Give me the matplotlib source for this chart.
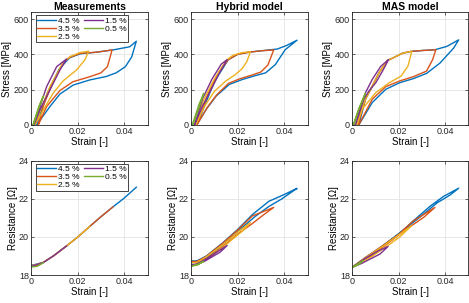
import matplotlib
matplotlib.use('Agg')
import matplotlib.pyplot as plt
import numpy as np

plt.rcParams['font.family'] = ['Liberation Sans', 'DejaVu Sans']

labels = ['4.5 %', '3.5 %', '2.5 %', '1.5 %', '0.5 %']
colors = ['#0072BD', '#D95319', '#EDB120', '#7E2F8E', '#77AC30']
titles = ['Measurements', 'Hybrid model', 'MAS model']

# stress-strain loops (strain [-], stress [MPa])
ms45 = [(0.0024, 0), (0.0081, 104), (0.0124, 175), (0.0181, 226), (0.0252, 255), (0.0324, 275),
        (0.0365, 295), (0.0405, 330), (0.0432, 385), (0.0452, 474), (0.0424, 443), (0.0352, 425),
        (0.028, 412), (0.021, 403), (0.0165, 380), (0.012, 315), (0.007, 180), (0.0024, 0)]
ms35 = [(0.0031, 0), (0.0067, 104), (0.0124, 195), (0.018, 245), (0.0252, 273), (0.030, 295),
        (0.0328, 330), (0.0348, 425), (0.028, 412), (0.021, 405), (0.0165, 382), (0.0138, 352),
        (0.009, 230), (0.0055, 115), (0.0031, 0)]
ms25 = [(0.0017, 0), (0.0053, 85), (0.0095, 180), (0.0138, 250), (0.0195, 311), (0.0231, 368),
        (0.0248, 418), (0.021, 410), (0.0167, 387), (0.0138, 355), (0.0081, 217), (0.0045, 100),
        (0.0017, 0)]
ms15 = [(0.0013, 0), (0.0038, 85), (0.0081, 198), (0.0124, 311), (0.0153, 374), (0.011, 330),
        (0.0067, 217), (0.0024, 47), (0.0010, 0)]
ms05 = [(0.0010, 0), (0.0032, 90), (0.0053, 164), (0.0035, 110), (0.0008, 0)]

hs45 = [(0.0024, 0), (0.0066, 90), (0.0108, 164), (0.0165, 230), (0.0221, 258), (0.0277, 280),
        (0.032, 295), (0.0362, 342), (0.0404, 426), (0.0455, 480), (0.041, 450), (0.037, 430),
        (0.03, 420), (0.025, 413), (0.02, 400), (0.016, 370), (0.01, 245), (0.0025, 0)]
hs35 = [(0.0025, 0), (0.007, 100), (0.011, 170), (0.016, 235), (0.021, 262), (0.026, 282),
        (0.03, 300), (0.033, 340), (0.0355, 425), (0.03, 420), (0.025, 412), (0.02, 400),
        (0.016, 370), (0.012, 300), (0.008, 200), (0.0025, 0)]
hs25 = [(0.002, 0), (0.006, 110), (0.01, 190), (0.015, 250), (0.019, 285), (0.022, 320),
        (0.024, 360), (0.0255, 415), (0.022, 410), (0.018, 395), (0.015, 365), (0.01, 260),
        (0.005, 130), (0.002, 0)]
hs15 = [(0.0015, 0), (0.005, 110), (0.009, 210), (0.012, 290), (0.0155, 370), (0.013, 345),
        (0.009, 260), (0.005, 150), (0.0015, 0)]
hs05 = [(0.0008, 0), (0.003, 80), (0.0055, 180), (0.0035, 120), (0.0005, 0)]

as45 = [(0.0029, 0), (0.0087, 127), (0.0145, 202), (0.0204, 239), (0.0262, 262), (0.032, 292),
        (0.0378, 351), (0.0436, 435), (0.0458, 482), (0.0407, 445), (0.0356, 426), (0.0305, 422),
        (0.0255, 417), (0.0218, 407), (0.0175, 379), (0.0153, 366), (0.0116, 295), (0.0087, 220),
        (0.0058, 146), (0.0029, 0)]
as35 = [(0.0029, 0), (0.0087, 146), (0.0145, 217), (0.0204, 249), (0.0262, 273), (0.032, 305),
        (0.0346, 370), (0.036, 426), (0.0305, 422), (0.0255, 417), (0.0218, 407), (0.0175, 379),
        (0.0153, 366), (0.0116, 295), (0.0087, 220), (0.0058, 146), (0.0025, 0)]
as25 = [(0.0022, 0), (0.0044, 90), (0.0102, 183), (0.016, 239), (0.0211, 277), (0.024, 333),
        (0.0257, 417), (0.0218, 407), (0.0175, 379), (0.0153, 366), (0.0116, 295), (0.0087, 220),
        (0.0058, 146), (0.0015, 0)]
as15 = [(0.0015, 0), (0.0051, 146), (0.0073, 193), (0.0102, 239), (0.0131, 305), (0.0157, 370),
        (0.0124, 333), (0.0087, 258), (0.0058, 183), (0.0007, 0)]
as05 = [(0.0007, 0), (0.003, 90), (0.0058, 180), (0.003, 95), (0.0005, 0)]

# resistance-strain curves (strain [-], resistance [Ohm])
mr45 = [(0, 18.5), (0.0053, 18.66), (0.0096, 19.0), (0.0153, 19.53), (0.02, 19.99), (0.0254, 20.57),
        (0.0297, 21.03), (0.0354, 21.6), (0.04, 22.04), (0.0452, 22.61)]
mr35 = [(0, 18.5), (0.003, 18.5), (0.0053, 18.66), (0.0096, 19.0), (0.0153, 19.53), (0.02, 19.99),
        (0.0254, 20.57), (0.0297, 21.03), (0.0352, 21.58)]
mr25 = [(0, 18.47), (0.0053, 18.66), (0.0096, 19.0), (0.0153, 19.53), (0.02, 19.99), (0.0252, 20.55)]
mr15 = [(0, 18.45), (0.0053, 18.66), (0.0096, 19.0), (0.0153, 19.53)]
mr05 = [(0, 18.42), (0.0025, 18.45), (0.0053, 18.64)]

hr45 = [(0.0, 18.75), (0.0024, 18.73), (0.0066, 19.0), (0.0137, 19.7), (0.02, 20.39), (0.0263, 21.17),
        (0.0334, 21.87), (0.0397, 22.21), (0.0455, 22.55), (0.0425, 22.3), (0.039, 22.0),
        (0.0334, 21.6), (0.0277, 21.09), (0.02, 20.3), (0.0137, 19.6), (0.0066, 18.9), (0.0024, 18.72)]
hr35 = [(0.0, 18.72), (0.0024, 18.7), (0.0066, 18.98), (0.0137, 19.68), (0.02, 20.36), (0.0263, 21.1),
        (0.0355, 21.55), (0.031, 21.15), (0.0263, 20.7), (0.02, 20.15), (0.0137, 19.5),
        (0.0066, 18.85), (0.0024, 18.7)]
hr25 = [(0.0, 18.65), (0.0024, 18.65), (0.0066, 18.95), (0.0137, 19.6), (0.02, 20.25), (0.0255, 20.75),
        (0.022, 20.3), (0.0175, 19.85), (0.0137, 19.45), (0.0066, 18.8), (0.0024, 18.62)]
hr15 = [(0.0, 18.55), (0.0024, 18.57), (0.0066, 18.85), (0.0110, 19.2), (0.0155, 19.55),
        (0.0125, 19.2), (0.009, 18.95), (0.0055, 18.7), (0.0024, 18.55)]
hr05 = [(0.0, 18.47), (0.0025, 18.52), (0.0055, 18.72), (0.003, 18.55), (0.0, 18.47)]

ar45 = [(0.0, 18.4), (0.0058, 18.92), (0.0131, 19.53), (0.02, 20.13), (0.0262, 20.83), (0.0335, 21.61),
        (0.0393, 22.13), (0.0458, 22.56), (0.0422, 22.21), (0.0364, 21.78), (0.0305, 21.17),
        (0.0233, 20.48), (0.016, 19.79), (0.0087, 19.09), (0.0, 18.4)]
ar35 = [(0.0, 18.4), (0.0058, 18.92), (0.0131, 19.53), (0.02, 20.13), (0.0262, 20.83), (0.0356, 21.55),
        (0.031, 21.05), (0.0233, 20.4), (0.016, 19.72), (0.0087, 19.05), (0.0, 18.4)]
ar25 = [(0.0, 18.4), (0.0058, 18.9), (0.0131, 19.5), (0.02, 20.1), (0.0257, 20.6), (0.0205, 20.0),
        (0.016, 19.6), (0.0087, 18.98), (0.0, 18.4)]
ar15 = [(0.0, 18.4), (0.0058, 18.88), (0.0110, 19.25), (0.0155, 19.5), (0.012, 19.1), (0.008, 18.85),
        (0.004, 18.6), (0.0, 18.4)]
ar05 = [(0.0, 18.4), (0.0025, 18.58), (0.0048, 18.75), (0.0025, 18.52), (0.0, 18.4)]

stress = [[ms45, ms35, ms25, ms15, ms05], [hs45, hs35, hs25, hs15, hs05], [as45, as35, as25, as15, as05]]
resist = [[mr45, mr35, mr25, mr15, mr05], [hr45, hr35, hr25, hr15, hr05], [ar45, ar35, ar25, ar15, ar05]]

fig = plt.figure(figsize=(4.69, 3.03), dpi=100)
lefts = [0.0661, 0.4073, 0.7505]
w = 0.2484
axs = []
for c in range(3):
    top = fig.add_axes([lefts[c], 0.5875, w, 0.3713])
    bot = fig.add_axes([lefts[c], 0.0924, w, 0.377])
    axs.append((top, bot))

for c in range(3):
    top, bot = axs[c]
    for k in range(5):
        d = np.array(stress[c][k])
        top.plot(d[:, 0], d[:, 1], color=colors[k], lw=1.0, label=labels[k])
        d = np.array(resist[c][k])
        bot.plot(d[:, 0], d[:, 1], color=colors[k], lw=1.0, label=labels[k])
    top.set_ylim(0, 637)
    top.set_yticks([0, 200, 400, 600])
    top.set_ylabel('Stress [MPa]', fontsize=7, labelpad=1)
    top.set_title(titles[c], fontsize=7.5, fontweight='bold', pad=2)
    bot.set_ylim(18, 24)
    bot.set_yticks([18, 20, 22, 24])
    bot.set_ylabel('Resistance [\u03a9]', fontsize=7, labelpad=1)
    for ax in (top, bot):
        ax.set_xlim(0, 0.05)
        ax.set_xticks([0, 0.02, 0.04])
        ax.set_xticklabels(['0', '0.02', '0.04'])
        ax.set_xlabel('Strain [-]', fontsize=7, labelpad=0.5)
        ax.grid(True, color='#e3e3e3', lw=0.6)
        ax.set_axisbelow(True)
        ax.tick_params(direction='in', length=2.5, width=0.5, labelsize=6.5, pad=1.5,
                       colors='#262626', top=True, right=True)
        for s in ax.spines.values():
            s.set_linewidth(0.6)
            s.set_color('#262626')
    if c == 0:
        for ax in (top, bot):
            leg = ax.legend(ncol=2, fontsize=6, loc='upper left', bbox_to_anchor=(0.04, 0.975),
                            handlelength=2.3, handletextpad=0.2, columnspacing=0.5, labelspacing=0.02,
                            borderpad=0.2, borderaxespad=0, fancybox=False, framealpha=1)
            leg.get_frame().set_edgecolor('#262626')
            leg.get_frame().set_linewidth(0.6)

fig.savefig('out.png', dpi=100)
